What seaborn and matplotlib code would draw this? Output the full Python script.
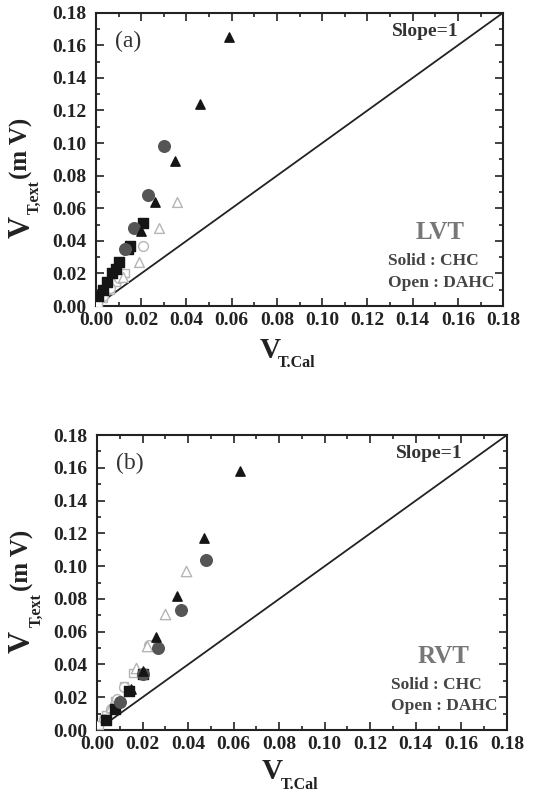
import matplotlib
matplotlib.use("Agg")
import matplotlib.pyplot as plt
from matplotlib.ticker import MultipleLocator, FormatStrFormatter
import seaborn as sns
import numpy as np

# ---- data ----
# panel (a) LVT
a_tri_x = [0.059, 0.046, 0.035, 0.026, 0.020]
a_tri_y = [0.165, 0.124, 0.089, 0.064, 0.046]
a_cir_x = [0.030, 0.023, 0.017, 0.013]
a_cir_y = [0.098, 0.068, 0.048, 0.035]
a_sq_x = [0.021, 0.015, 0.014, 0.010, 0.009, 0.007, 0.005, 0.003, 0.001]
a_sq_y = [0.051, 0.037, 0.035, 0.027, 0.023, 0.020, 0.015, 0.010, 0.006]
a_otri_x = [0.036, 0.028, 0.019, 0.012]
a_otri_y = [0.064, 0.048, 0.027, 0.018]
a_ocir_x = [0.021, 0.010, 0.006, 0.003]
a_ocir_y = [0.037, 0.017, 0.011, 0.006]
a_osq_x = [0.013, 0.009, 0.006, 0.003, 0.001]
a_osq_y = [0.020, 0.015, 0.010, 0.005, 0.002]

# panel (b) RVT
b_tri_x = [0.063, 0.047, 0.035, 0.026, 0.020, 0.015]
b_tri_y = [0.158, 0.117, 0.082, 0.057, 0.036, 0.025]
b_cir_x = [0.048, 0.037, 0.027, 0.020, 0.010]
b_cir_y = [0.104, 0.073, 0.050, 0.034, 0.017]
b_sq_x = [0.020, 0.014, 0.008, 0.004]
b_sq_y = [0.034, 0.024, 0.013, 0.006]
b_otri_x = [0.039, 0.030, 0.022, 0.017, 0.006]
b_otri_y = [0.097, 0.071, 0.051, 0.038, 0.014]
b_ocir_x = [0.023, 0.012, 0.009, 0.006, 0.003]
b_ocir_y = [0.052, 0.026, 0.019, 0.013, 0.007]
b_osq_x = [0.016, 0.012, 0.008, 0.004, 0.001]
b_osq_y = [0.035, 0.027, 0.018, 0.009, 0.003]

slope_line = [0.0, 0.18]
ticks = [0.00, 0.02, 0.04, 0.06, 0.08, 0.10, 0.12, 0.14, 0.16, 0.18]

sns.set_style("ticks")
plt.rcParams["font.family"] = ["Liberation Serif", "DejaVu Serif"]

fig = plt.figure(figsize=(5.33, 7.93), dpi=100)
ax_a = fig.add_axes([0.180, 0.614, 0.764, 0.370])
ax_b = fig.add_axes([0.182, 0.0794, 0.769, 0.372])

solid_dark = "#151515"
solid_grey = "#555555"
open_grey = "#b5b5b5"
ink = "#222222"


def axis_labels(ax, ylab_pos, xlab_pos):
    # y label: big V, small subscript, then (mV), all rotated
    (vx, vy), (sx, sy), (mx, my) = ylab_pos
    ax.text(vx, vy, "V", transform=ax.transAxes, rotation=90, fontsize=22,
            fontweight="bold", ha="center", va="center", color=ink)
    ax.text(sx, sy, "T,ext", transform=ax.transAxes, rotation=90, fontsize=11.5,
            fontweight="bold", ha="center", va="center", color=ink)
    ax.text(mx, my, "(m V)", transform=ax.transAxes, rotation=90, fontsize=18,
            fontweight="bold", ha="center", va="center", color=ink)
    (vx, vy), (sx, sy) = xlab_pos
    ax.text(vx, vy, "V", transform=ax.transAxes, fontsize=21,
            fontweight="bold", ha="center", va="center", color=ink)
    ax.text(sx, sy, "T.Cal", transform=ax.transAxes, fontsize=11.5,
            fontweight="bold", ha="center", va="center", color=ink)


def draw(ax, series, tag, name, ylab_pos, xlab_pos):
    sns.lineplot(x=slope_line, y=slope_line, color=ink, lw=1.3, ax=ax)
    for xs, ys, m, fc, ec, s in series:
        sns.scatterplot(x=xs, y=ys, marker=m, s=s, color=fc, edgecolor=ec,
                        linewidth=1.0, ax=ax, zorder=3)
    ax.set_xlim(0, 0.18)
    ax.set_ylim(0, 0.18)
    ax.set_xticks(ticks)
    ax.set_yticks(ticks)
    ax.xaxis.set_major_formatter(FormatStrFormatter("%.2f"))
    ax.yaxis.set_major_formatter(FormatStrFormatter("%.2f"))
    ax.xaxis.set_minor_locator(MultipleLocator(0.01))
    ax.yaxis.set_minor_locator(MultipleLocator(0.01))
    ax.tick_params(which="both", direction="in", top=True, right=True,
                   width=1.2, colors=ink)
    ax.tick_params(which="major", length=6, labelsize=14)
    ax.tick_params(axis="x", which="major", pad=4)
    ax.tick_params(axis="y", which="major", pad=7)
    ax.tick_params(which="minor", length=3)
    for lab in ax.get_xticklabels() + ax.get_yticklabels():
        lab.set_fontweight("bold")
    for sp in ax.spines.values():
        sp.set_linewidth(1.5)
        sp.set_color(ink)
    ax.set_xlabel("")
    ax.set_ylabel("")
    axis_labels(ax, ylab_pos, xlab_pos)
    ax.text(0.0085, 0.159, tag, fontsize=17, color="#333333")
    ax.text(0.1605, 0.166, "Slope=1", fontsize=14, fontweight="bold",
            ha="right", color="#333333")
    ax.text(0.152, 0.041, name, fontsize=18, fontweight="bold", ha="center",
            color="#777777")
    ax.text(0.129, 0.025, "Solid : CHC", fontsize=12.5, fontweight="bold",
            color="#444444")
    ax.text(0.129, 0.012, "Open : DAHC", fontsize=12.5, fontweight="bold",
            color="#444444")


series_a = [
    (a_osq_x, a_osq_y, "s", "white", open_grey, 40),
    (a_ocir_x, a_ocir_y, "o", "white", open_grey, 50),
    (a_otri_x, a_otri_y, "^", "white", open_grey, 50),
    (a_sq_x, a_sq_y, "s", solid_dark, solid_dark, 55),
    (a_cir_x, a_cir_y, "o", solid_grey, solid_grey, 70),
    (a_tri_x, a_tri_y, "^", solid_dark, solid_dark, 45),
]
series_b = [
    (b_osq_x, b_osq_y, "s", "white", open_grey, 40),
    (b_ocir_x, b_ocir_y, "o", "white", open_grey, 50),
    (b_otri_x, b_otri_y, "^", "white", open_grey, 55),
    (b_sq_x, b_sq_y, "s", solid_dark, solid_dark, 45),
    (b_cir_x, b_cir_y, "o", solid_grey, solid_grey, 70),
    (b_tri_x, b_tri_y, "^", solid_dark, solid_dark, 45),
]

draw(ax_a, series_a, "(a)", "LVT",
     [(-0.182, 0.27), (-0.150, 0.372), (-0.182, 0.539)],
     [(0.4275, -0.150), (0.494, -0.195)])
draw(ax_b, series_b, "(b)", "RVT",
     [(-0.183, 0.298), (-0.147, 0.407), (-0.183, 0.576)],
     [(0.427, -0.139), (0.495, -0.186)])

fig.savefig("out.png", dpi=100)
